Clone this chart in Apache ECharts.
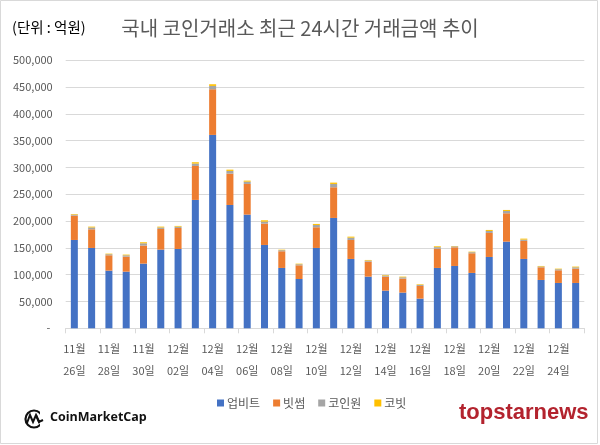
<!DOCTYPE html>
<html>
<head>
<meta charset="utf-8">
<script src="https://cdn.jsdelivr.net/npm/echarts@6/dist/echarts.min.js"></script>
<style>
html,body{margin:0;padding:0;background:#fff;}
#chart{width:600px;height:445px;}
</style>
</head>
<body>
<div id="chart"></div>
<script>
const categories = [
  '11월\n26일','11월\n27일','11월\n28일','11월\n29일','11월\n30일',
  '12월\n01일','12월\n02일','12월\n03일','12월\n04일','12월\n05일',
  '12월\n06일','12월\n07일','12월\n08일','12월\n09일','12월\n10일',
  '12월\n11일','12월\n12일','12월\n13일','12월\n14일','12월\n15일',
  '12월\n16일','12월\n17일','12월\n18일','12월\n19일','12월\n20일',
  '12월\n21일','12월\n22일','12월\n23일','12월\n24일','12월\n25일'
];
const seriesNames = ['업비트','빗썸','코인원','코빗'];
const upbit = [164800,149900,107600,105700,120700,146800,148000,239500,360800,230100,
  212100,155500,112600,92000,149900,205900,129400,96400,70300,66600,
  55400,112600,116300,103300,133100,161700,129400,90200,84600,84600];
const bithumb = [45400,34800,28600,28000,33600,38600,39200,63400,85200,58500,
  57200,39800,31100,25500,38600,57200,35400,28000,26100,26100,
  23600,35800,34800,36700,44800,52900,33600,23600,23600,26700];
const coinone = [2000,3500,2000,2500,4300,2800,2500,4400,6200,5000,
  4300,3700,2000,2000,4300,6200,4300,2000,2000,2500,
  2000,3000,1800,2000,3700,4300,2500,1500,2000,2500];
const korbit = [1100,1500,1100,1300,1900,1500,1300,2500,3100,2400,
  1900,2500,1000,1100,1900,2500,1900,1100,1100,1200,
  1100,1600,700,1000,1900,1900,1800,1000,1100,1300];
const yTicks = {min:0, max:500000, interval:50000};
const colors = ['#4472C4','#ED7D31','#A5A5A5','#FFC000'];

const FONT = '"Noto Sans CJK KR","Noto Sans",sans-serif';
const chart = echarts.init(document.getElementById('chart'), null, {renderer:'canvas'});
const allData = [upbit, bithumb, coinone, korbit];

chart.setOption({
  animation:false,
  backgroundColor:'#fff',
  textStyle:{fontFamily:FONT},
  color:colors,
  title:{
    text:'국내 코인거래소 최근 24시간 거래금액 추이',
    left:'center', top:13,
    textStyle:{fontFamily:FONT, fontSize:20, fontWeight:'normal', color:'#595959'}
  },
  legend:{
    data:seriesNames, top:392, left:212,
    itemWidth:7, itemHeight:7, itemGap:13, icon:'rect',
    textStyle:{fontFamily:FONT, fontSize:12, color:'#595959', padding:[0,0,0,-2]}
  },
  grid:{left:65.7, right:15.7, top:60.3, bottom:116.7, containLabel:false},
  xAxis:{
    type:'category', data:categories, boundaryGap:true,
    axisLine:{lineStyle:{color:'#d9d9d9'}},
    axisTick:{show:true, interval:1, length:5, lineStyle:{color:'#d9d9d9'}},
    axisLabel:{interval:1, color:'#595959', fontSize:11, fontFamily:FONT, lineHeight:22, margin:10}
  },
  yAxis:{
    type:'value', min:yTicks.min, max:yTicks.max, interval:yTicks.interval,
    axisLine:{show:false}, axisTick:{show:false},
    splitLine:{lineStyle:{color:'#d9d9d9'}},
    axisLabel:{color:'#595959', fontSize:11, fontFamily:FONT, margin:13,
      formatter:function(v){return v===0?'- ':v.toLocaleString('en-US');}}
  },
  series:seriesNames.map(function(n,i){
    return {name:n, type:'bar', stack:'total', data:allData[i], barWidth:7,
      itemStyle:{color:colors[i]}};
  }),
  graphic:[
    {type:'rect', shape:{x:0.5,y:0.5,width:597,height:443}, style:{fill:'none', stroke:'#d9d9d9', lineWidth:1}, silent:true},
    {type:'text', left:12, top:20, style:{text:'(단위 : 억원)', font:'14.5px "Noto Sans CJK KR"', fill:'#000'}},
    {type:'circle', shape:{cx:34, cy:419, r:8.5}, style:{fill:'none', stroke:'#111', lineWidth:2.2}},
    {type:'polyline', shape:{points:[[27,423],[30,415],[33,422],[36,415],[39,422],[42,419]]}, style:{fill:'none', stroke:'#111', lineWidth:2}},
    {type:'rect', shape:{x:40,y:411,width:7,height:16}, style:{fill:'#fff'}},
    {type:'polyline', shape:{points:[[36,415],[39,422],[43,420]]}, style:{fill:'none', stroke:'#111', lineWidth:2}},
    {type:'text', left:50, top:411, style:{text:'CoinMarketCap', font:'bold 12.5px "Open Sans"', fill:'#111'}},
    {type:'text', left:459, top:402, style:{text:'topstarnews', font:'bold 22px "Liberation Sans"', fill:'#b3232e'}}
  ]
});
</script>
</body>
</html>
